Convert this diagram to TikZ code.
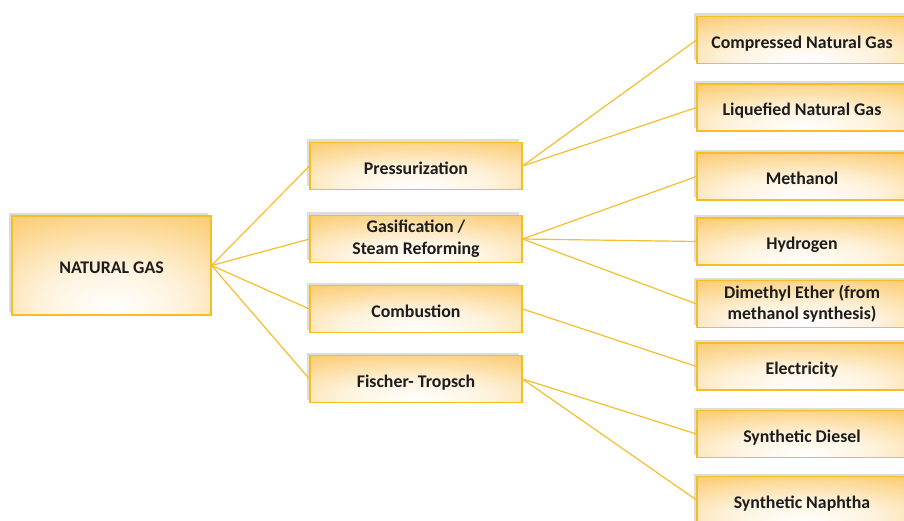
\documentclass[tikz,border=0pt]{standalone}
\usepackage{fontspec}
\setmainfont{Carlito}
\usetikzlibrary{shadows}
\definecolor{boxor}{HTML}{FBCB70}
\definecolor{boxline}{HTML}{F5BE22}
\definecolor{linkc}{HTML}{F4BF2E}
\definecolor{txt}{HTML}{1C1C1C}
\pgfdeclareradialshading{boxshade}{\pgfpoint{0bp}{-22bp}}{color(0bp)=(white); color(18bp)=(white!75!boxor); color(45bp)=(boxor); color(100bp)=(boxor)}
\tikzset{
  gbox/.style={draw=boxline, line width=1.1pt, shading=boxshade,
    minimum width=#1, text=txt, font=\fontsize{17.8}{21.5}\selectfont\bfseries, align=center, inner sep=2pt,
    drop shadow={shadow xshift=-3pt, shadow yshift=3pt, opacity=0.22, fill=black!60}},
  one/.style={text height=16.5pt, text depth=0pt},
  two/.style={yshift=-1.5pt},
  ngbox/.style={gbox=199pt, minimum height=99pt},
  midbox/.style={gbox=212pt, minimum height=47pt},
  outbox/.style={gbox=210pt, minimum height=47pt},
  link/.style={draw=linkc, line width=1.2pt}
}
\begin{document}
\begin{tikzpicture}[x=1pt,y=-1pt]
\path[use as bounding box, fill=white] (0,0) rectangle (904,521);
\clip (0,0) rectangle (904,521);
\node[ngbox, one] (ng) at (111.5,265.5) {NATURAL GAS};
\node[midbox, one] (pr) at (416,166) {Pressurization};
\node[midbox] (ga) at (416,239) {Gasification /\\Steam Reforming};
\node[midbox, one] (co) at (416,309) {Combustion};
\node[midbox, one] (ft) at (416,379) {Fischer- Tropsch};
\node[outbox, one] (cng) at (802,40) {Compressed Natural Gas};
\node[outbox, one] (lng) at (802,107.5) {Liquefied Natural Gas};
\node[outbox, one] (me) at (802,176.5) {Methanol};
\node[outbox, one] (hy) at (802,241.5) {Hydrogen};
\node[outbox] (dme) at (802,304) {Dimethyl Ether (from\\methanol synthesis)};
\node[outbox, one] (el) at (802,366.5) {Electricity};
\node[outbox, one] (sd) at (802,434) {Synthetic Diesel};
\node[outbox, one] (sn) at (802,500) {Synthetic Naphtha};
\foreach \m in {pr,ga,co,ft} \draw[link] (ng.east) -- (\m.west);
\foreach \o in {cng,lng} \draw[link] (pr.east) -- (\o.west);
\foreach \o in {me,hy,dme} \draw[link] (ga.east) -- (\o.west);
\draw[link] (co.east) -- (el.west);
\foreach \o in {sd,sn} \draw[link] (ft.east) -- (\o.west);
\end{tikzpicture}
\end{document}
